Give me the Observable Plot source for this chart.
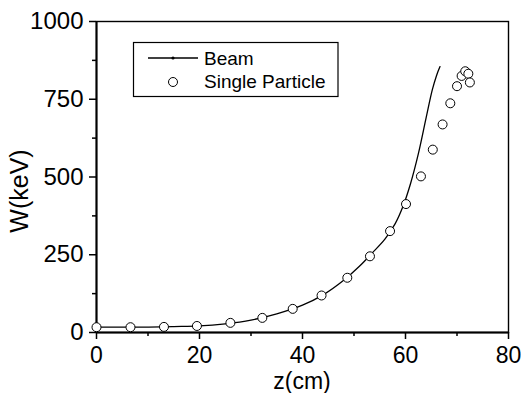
<!DOCTYPE html>
<html>
<head>
<meta charset="utf-8">
<script src="https://cdn.jsdelivr.net/npm/d3@7"></script>
<script src="https://cdn.jsdelivr.net/npm/@observablehq/plot@0.6"></script>
<style>
  html, body { margin: 0; padding: 0; background: #fff; }
  svg { display: block; }
</style>
</head>
<body>
<div id="chart"></div>
<script>
// Beam simulation curve
const beamZ = [0, 5, 10, 15, 20, 25, 30, 35, 40, 44, 48, 51, 53.5, 56, 58, 59.5, 61, 62.5, 64, 65.2, 66, 66.7];
const beamW = [17, 17, 17.5, 19, 21, 28, 40, 60, 88, 121, 168, 212, 255, 300, 350, 405, 480, 575, 690, 780, 825, 855];
// Single particle points
const particleZ = [0, 6.6, 13.1, 19.5, 26.0, 32.2, 38.1, 43.7, 48.7, 53.1, 57.0, 60.1, 63.0, 65.3, 67.2, 68.7, 70.0, 70.9, 71.6, 72.2, 72.5];
const particleW = [17, 17, 18, 21, 31, 47, 76, 119, 176, 245, 326, 413, 502, 588, 669, 737, 792, 825, 840, 832, 804];
// Ticks
const xMajor = [0, 20, 40, 60, 80];
const xMinor = [10, 30, 50, 70];
const yMajor = [0, 250, 500, 750, 1000];
const yMinor = [125, 375, 625, 875];
const legendLabels = ["Beam", "Single Particle"];
const xTitle = "z(cm)";
const yTitle = "W(keV)";

const beam = beamZ.map((z, i) => ({z, W: beamW[i]}));
const particle = particleZ.map((z, i) => ({z, W: particleW[i]}));

const FONT = "'Liberation Sans', Arial, Helvetica, sans-serif";

const plot = Plot.plot({
  width: 521,
  height: 393,
  marginLeft: 96,
  marginRight: 13,
  marginTop: 21,
  marginBottom: 61,
  style: {fontFamily: FONT, background: "white", color: "black"},
  x: {domain: [0, 80]},
  y: {domain: [0, 1000]},
  marks: [
    Plot.frame({stroke: "black", strokeWidth: 1.4}),
    Plot.ruleY([0], {stroke: "black", strokeWidth: 2}),
    Plot.ruleX([0], {stroke: "black", strokeWidth: 2}),
    Plot.axisX(xMajor, {tickSize: 7, tickPadding: 7.5, fontSize: 23, strokeWidth: 1.5, label: null, tickFormat: d3.format("d")}),
    Plot.axisX(xMinor, {tickSize: 4, text: null, strokeWidth: 1.5, label: null}),
    Plot.axisY(yMajor, {tickSize: 7, tickPadding: 6, fontSize: 24, strokeWidth: 1.5, label: null, tickFormat: d3.format("d")}),
    Plot.axisY(yMinor, {tickSize: 4, text: null, strokeWidth: 1.5, label: null}),
    Plot.line(beam, {x: "z", y: "W", curve: "catmull-rom", stroke: "black", strokeWidth: 1.3}),
    Plot.dot(particle, {x: "z", y: "W", r: 4.5, fill: "white", stroke: "black", strokeWidth: 1})
  ]
});

document.getElementById("chart").appendChild(plot);

const svg = d3.select(plot);

// Axis titles
const titles = svg.append("g").attr("font-family", FONT).attr("fill", "black").attr("text-anchor", "middle");
titles.append("text").attr("x", 302).attr("y", 389).attr("font-size", 23).text(xTitle);
titles.append("text").attr("transform", "translate(28,191) rotate(-90)").attr("font-size", 25).text(yTitle);

// Legend box
const lg = svg.append("g").attr("font-family", FONT).attr("text-anchor", "start");
lg.append("rect").attr("x", 133.5).attr("y", 42.5).attr("width", 204.5).attr("height", 54)
  .attr("fill", "white").attr("stroke", "black").attr("stroke-width", 1.2);
lg.append("line").attr("x1", 148).attr("x2", 198).attr("y1", 58).attr("y2", 58)
  .attr("stroke", "black").attr("stroke-width", 1.3);
lg.append("circle").attr("cx", 173).attr("cy", 58).attr("r", 1.6).attr("fill", "black");
lg.append("circle").attr("cx", 173).attr("cy", 82).attr("r", 4.5)
  .attr("fill", "white").attr("stroke", "black").attr("stroke-width", 1);
lg.append("text").attr("x", 204).attr("y", 64.5).attr("font-size", 19).attr("text-anchor", "start").attr("fill", "black").text(legendLabels[0]);
lg.append("text").attr("x", 204).attr("y", 87.5).attr("font-size", 19).attr("text-anchor", "start").attr("fill", "black").text(legendLabels[1]);
</script>
</body>
</html>
